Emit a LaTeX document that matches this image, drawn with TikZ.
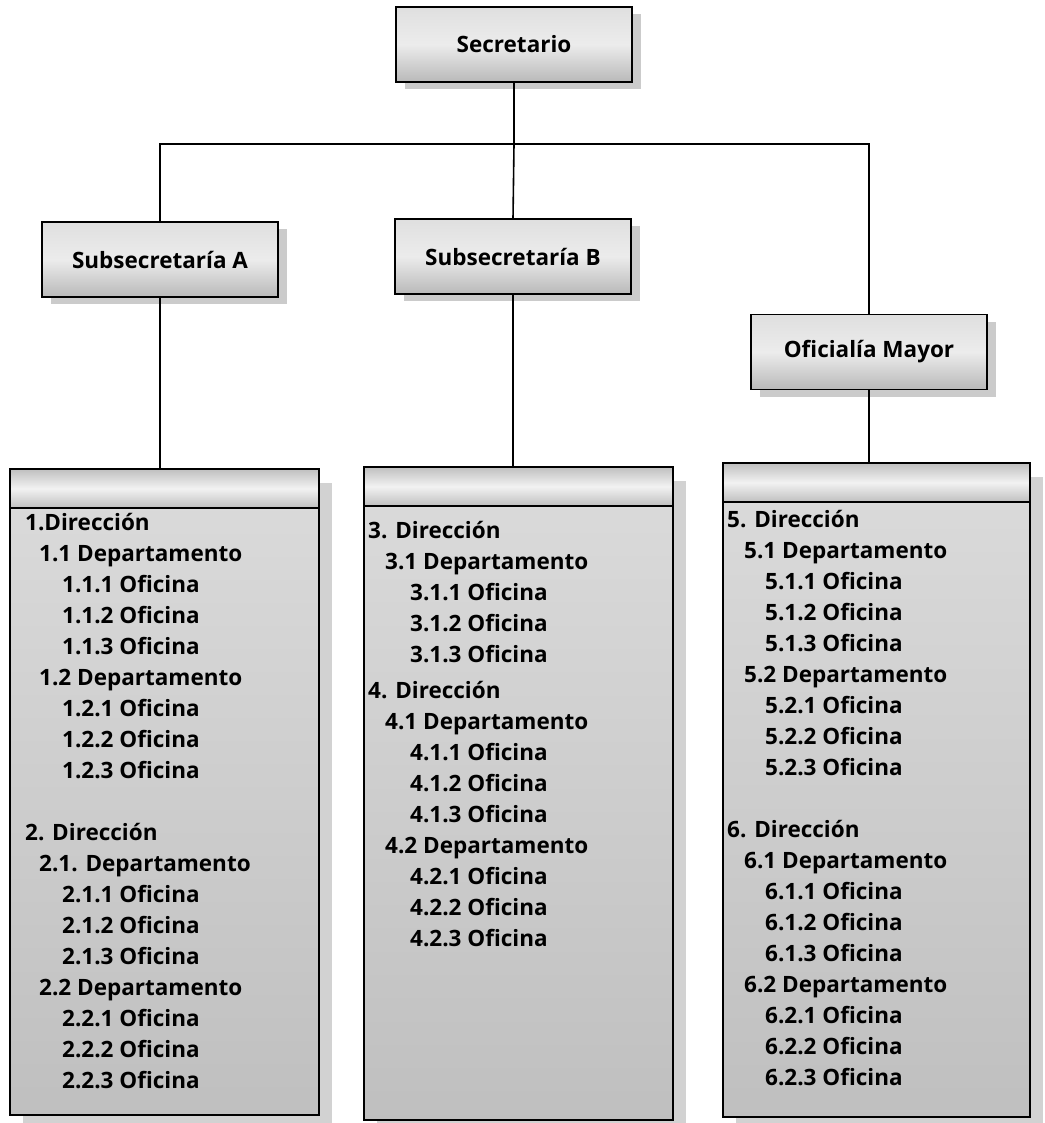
\documentclass[tikz,border=0pt]{standalone}
\usepackage{fontspec}
\setmainfont{Open Sans}
\usetikzlibrary{positioning,shadows,calc}

\begin{document}
\begin{tikzpicture}[
  x=1pt, y=-1pt,
  every node/.style = {font=\bfseries\fontsize{22.5}{31}\selectfont},
  unit/.style = {draw, line width=1.1pt, minimum width=236pt, minimum height=75pt,
    inner sep=0pt, top color=gray!25, bottom color=gray!55, middle color=gray!15,
    drop shadow={shadow xshift=9pt, shadow yshift=-7pt, fill=gray!80}},
  listbox/.style = {draw, line width=1.1pt, inner sep=0pt,
    top color=gray!28, bottom color=gray!50,
    drop shadow={shadow xshift=13pt, shadow yshift=-14pt, fill=gray!70}},
  listhead/.style = {draw, line width=1.1pt, inner sep=0pt, minimum height=39pt,
    top color=gray!50, bottom color=gray!50, middle color=gray!10},
  items/.style = {align=left, anchor=north west, inner sep=0pt},
  link/.style = {line width=1.6pt}
]
  \useasboundingbox[fill=white] (0,0) rectangle (1044,1123);

  % top levels
  \node[unit] (sec)  at (514,44.5)  {Secretario};
  \node[unit] (subA) at (160,259.5) {Subsecretaría A};
  \node[unit] (subB) at (513,256.5) {Subsecretaría B};
  \node[unit] (ofi)  at (869,352)   {Oficialía Mayor};
  \coordinate (rail) at (514,144);

  % list boxes
  \node[listbox, minimum width=309pt, minimum height=646pt] (listA) at (164.5,792) {};
  \node[listbox, minimum width=309pt, minimum height=653pt] (listB) at (518.5,793.5) {};
  \node[listbox, minimum width=307pt, minimum height=654pt] (listC) at (876.5,790) {};
  \node[listhead, minimum width=309pt, anchor=north] (headA) at (listA.north) {};
  \node[listhead, minimum width=309pt, anchor=north] (headB) at (listB.north) {};
  \node[listhead, minimum width=307pt, anchor=north] (headC) at (listC.north) {};

  % connectors
  \draw[link] (sec) -- (rail);
  \draw[link] (subA.north) |- (rail) -| (ofi.north);
  \draw[link] (rail) -- (subB.north);
  \draw[link] (subA.south) -- (subA.south |- listA.north);
  \draw[link] (subB.south) -- (subB.south |- listB.north);
  \draw[link] (ofi.south) -- (ofi.south |- listC.north);

  % contents
  \node[items] (txtA) at (25,513) {1.Dirección\\
    \hspace*{14pt}1.1 Departamento\\
    \hspace*{37pt}1.1.1 Oficina\\
    \hspace*{37pt}1.1.2 Oficina\\
    \hspace*{37pt}1.1.3 Oficina\\
    \hspace*{14pt}1.2 Departamento\\
    \hspace*{37pt}1.2.1 Oficina\\
    \hspace*{37pt}1.2.2 Oficina\\
    \hspace*{37pt}1.2.3 Oficina\\[31pt]
    2. Dirección\\
    \hspace*{14pt}2.1. Departamento\\
    \hspace*{37pt}2.1.1 Oficina\\
    \hspace*{37pt}2.1.2 Oficina\\
    \hspace*{37pt}2.1.3 Oficina\\
    \hspace*{14pt}2.2 Departamento\\
    \hspace*{37pt}2.2.1 Oficina\\
    \hspace*{37pt}2.2.2 Oficina\\
    \hspace*{37pt}2.2.3 Oficina};
  \node[items] (txtB) at (368,521) {3. Dirección\\
    \hspace*{17pt}3.1 Departamento\\
    \hspace*{42pt}3.1.1 Oficina\\
    \hspace*{42pt}3.1.2 Oficina\\
    \hspace*{42pt}3.1.3 Oficina\\[5pt]
    4. Dirección\\
    \hspace*{17pt}4.1 Departamento\\
    \hspace*{42pt}4.1.1 Oficina\\
    \hspace*{42pt}4.1.2 Oficina\\
    \hspace*{42pt}4.1.3 Oficina\\
    \hspace*{17pt}4.2 Departamento\\
    \hspace*{42pt}4.2.1 Oficina\\
    \hspace*{42pt}4.2.2 Oficina\\
    \hspace*{42pt}4.2.3 Oficina};
  \node[items] (txtC) at (727,510) {5. Dirección\\
    \hspace*{17pt}5.1 Departamento\\
    \hspace*{38pt}5.1.1 Oficina\\
    \hspace*{38pt}5.1.2 Oficina\\
    \hspace*{38pt}5.1.3 Oficina\\
    \hspace*{17pt}5.2 Departamento\\
    \hspace*{38pt}5.2.1 Oficina\\
    \hspace*{38pt}5.2.2 Oficina\\
    \hspace*{38pt}5.2.3 Oficina\\[31pt]
    6. Dirección\\
    \hspace*{17pt}6.1 Departamento\\
    \hspace*{38pt}6.1.1 Oficina\\
    \hspace*{38pt}6.1.2 Oficina\\
    \hspace*{38pt}6.1.3 Oficina\\
    \hspace*{17pt}6.2 Departamento\\
    \hspace*{38pt}6.2.1 Oficina\\
    \hspace*{38pt}6.2.2 Oficina\\
    \hspace*{38pt}6.2.3 Oficina};
\end{tikzpicture}
\end{document}
